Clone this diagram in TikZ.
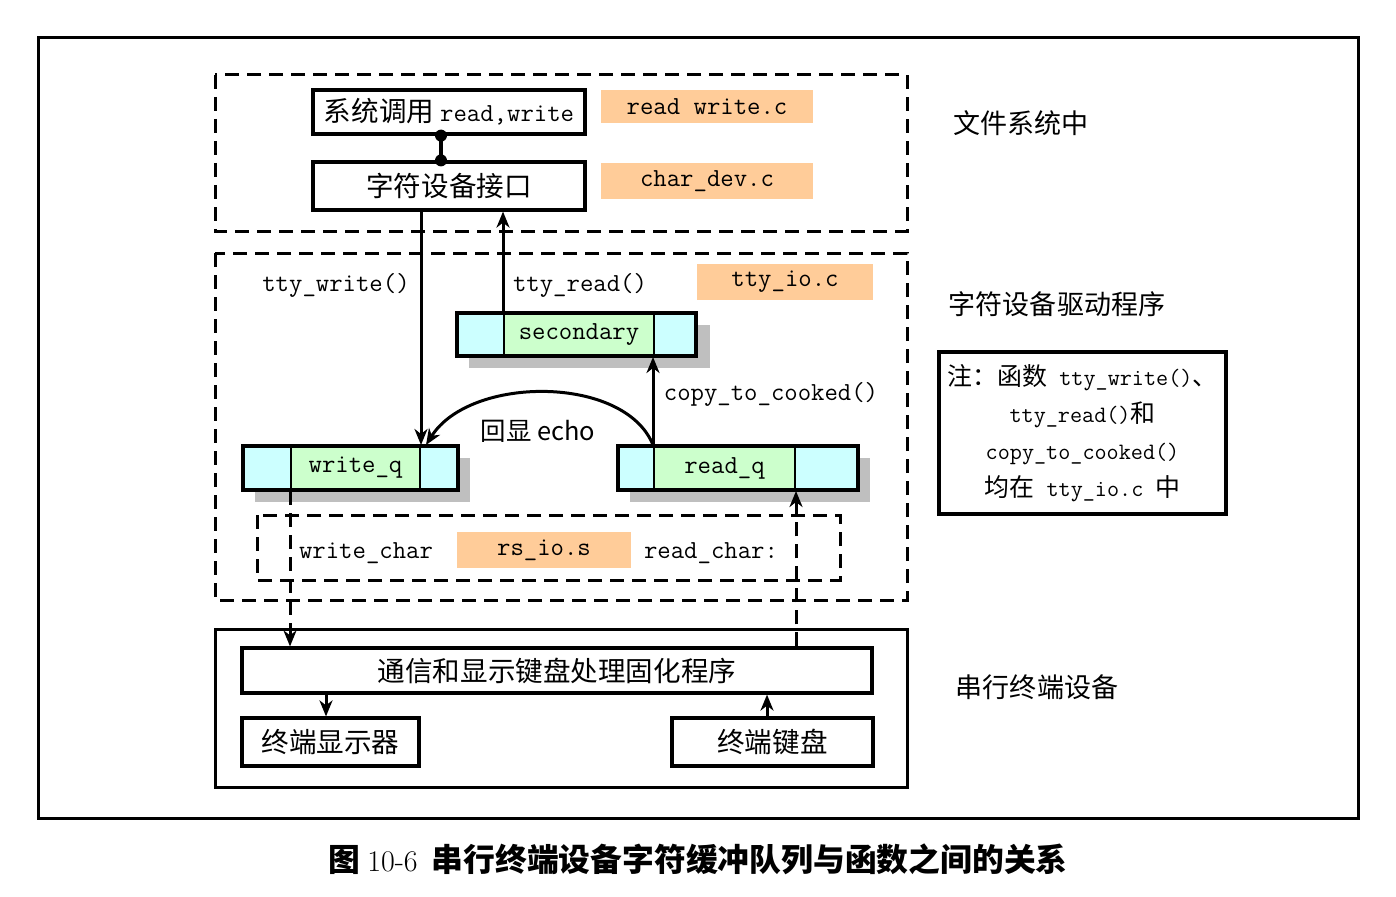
\documentclass[tikz,border=0pt]{standalone}
\usepackage{fontspec}
\usetikzlibrary{arrows.meta}
\newfontfamily\cjk[Scale=1.06]{Noto Sans CJK SC}
\definecolor{orng}{HTML}{FFCC99}
\definecolor{cyn}{HTML}{CCFFFF}
\definecolor{grn}{HTML}{CCFFCC}
\definecolor{shd}{HTML}{BFBFBF}
\newcommand\zh[1]{{\cjk #1}}
\begin{document}
\begin{tikzpicture}[x=1pt,y=-1pt,
  every node/.style={font=\ttfamily\fontsize{26}{30}\selectfont},
  box/.style={draw, line width=3.2pt, inner sep=1pt},
  tag/.style={fill=orng, inner sep=0pt},
  lbl/.style={inner sep=0pt},
  side/.style={inner sep=0pt, font=\cjk\fontsize{25.5}{30}\selectfont},
  dashbox/.style={line width=3pt, dash pattern=on 14pt off 8pt},
  conn/.style={line width=3pt, -{Stealth[length=16pt,width=13pt,inset=5pt]}},
  dconn/.style={conn, dash pattern=on 14pt off 8pt},
  qmid/.style={draw, line width=2pt, fill=grn, inner sep=0pt},
  qcell/.style={draw, line width=2pt, fill=cyn},
  qout/.style={draw, line width=3.5pt},
  shadow/.style={fill=shd},
]
\useasboundingbox (0,0) rectangle (1396,896);

% outer frame
\draw[line width=3pt] (38,38) rectangle (1358,818);

% group boxes
\draw[dashbox] (215,75) rectangle (907,231);
\draw[dashbox] (215,253) rectangle (907,600);
\draw[dashbox] (257,515) rectangle (840,580);
\draw[line width=3pt] (215,629) rectangle (907,787);

% file system layer
\node[box, minimum width=272pt, minimum height=44pt] (sys) at (449,112) {\zh{系统调用}\hspace{6pt}read,write};
\node[box, minimum width=272pt, minimum height=48pt] (chr) at (449,186) {\zh{字符设备接口}};
\node[tag, minimum width=212pt, minimum height=33pt] (rwc) at (707,106.5) {read write.c};
\node[tag, minimum width=212pt, minimum height=36pt] (cdc) at (707,181) {char\_dev.c};
\draw[line width=3.5pt] ([xshift=-8pt]sys.south) -- ([xshift=-8pt]chr.north);
\fill ([xshift=-8pt]sys.south) circle (6);
\fill ([xshift=-8pt]chr.north) circle (6);

% tty_io layer
\node[tag, minimum width=176pt, minimum height=36pt] (ttyio) at (785,282) {tty\_io.c};

% shadows
\fill[shadow] (469,325) rectangle (710,368);
\fill[shadow] (255,458) rectangle (470,502);
\fill[shadow] (630,458) rectangle (870,502);

% secondary queue
\draw[qcell] (457,313) rectangle (504,356);
\draw[qcell] (654,313) rectangle (696,356);
\node[qmid, minimum width=150pt, minimum height=43pt] (sec) at (579,334.5) {secondary};
\draw[qout] (457,313) rectangle (696,356);

% write queue
\draw[qcell] (243,446) rectangle (291,490);
\draw[qcell] (420,446) rectangle (458,490);
\node[qmid, minimum width=129pt, minimum height=44pt] (wq) at (355.5,468) {write\_q};
\draw[qout] (243,446) rectangle (458,490);

% read queue
\draw[qcell] (618,446) rectangle (654,490);
\draw[qcell] (795,446) rectangle (858,490);
\node[qmid, minimum width=141pt, minimum height=44pt] (rq) at (724.5,468) {read\_q};
\draw[qout] (618,446) rectangle (858,490);

% labels
\node[lbl] (lw) at (336,285) {tty\_write()};
\node[lbl] (lr) at (580,285) {tty\_read()};
\node[lbl] (lc) at (771,394) {copy\_to\_cooked()};
\node[lbl, font=\cjk\fontsize{24}{30}\selectfont] (le) at (538,431) {回显 echo};

% serial layer text
\node[lbl] (wc) at (366,553) {write\_char};
\node[tag, minimum width=174pt, minimum height=36pt] (rsio) at (544,550) {rs\_io.s};
\node[lbl] (rc) at (711,553) {read\_char:};

% terminal device
\node[box, minimum width=630pt, minimum height=45pt] (tong) at (557,670.5) {\zh{通信和显示键盘处理固化程序}};
\node[box, minimum width=177pt, minimum height=48pt] (disp) at (330.5,742) {\zh{终端显示器}};
\node[box, minimum width=201pt, minimum height=48pt] (kbd) at (772.5,742) {\zh{终端键盘}};

% connectors
\draw[conn] (wq.north east |- chr.south) -- (wq.north east);
\draw[conn] (sec.north west) -- (sec.north west |- chr.south);
\draw[conn] (rq.north west) -- (rq.north west |- sec.south);
\draw[conn] (rq.north west) .. controls (625,375) and (470,375) .. ([xshift=5pt]wq.north east);
\draw[dconn] (wq.south west) -- (wq.south west |- tong.north);
\draw[dconn] (rq.south east |- tong.north) -- (rq.south east);
\draw[conn] ([xshift=-4.5pt]disp.north |- tong.south) -- ([xshift=-4.5pt]disp.north);
\draw[conn] ([xshift=-5.5pt]kbd.north) -- ([xshift=-5.5pt]kbd.north |- tong.south);

% side labels
\node[side] (s1) at (1021,123) {文件系统中};
\node[side] (s2) at (1057,304) {字符设备驱动程序};
\node[side] (s3) at (1037,687) {串行终端设备};

% note
\node[box, minimum width=287pt, minimum height=162pt, inner sep=0pt, align=center,
      font=\ttfamily\fontsize{23.5}{37}\selectfont] (note) at (1082.5,433)
  {\zh{注：函数} tty\_write()\zh{、}\\ tty\_read()\zh{和}\\ copy\_to\_cooked()\\ \zh{均在} tty\_io.c \zh{中}};

% caption
\node[lbl, font=\cjk\bfseries\fontsize{30}{36}\selectfont] (cap) at (698,859)
  {图 {\rmfamily\mdseries 10-6}\hspace{14pt}串行终端设备字符缓冲队列与函数之间的关系};
\end{tikzpicture}
\end{document}
